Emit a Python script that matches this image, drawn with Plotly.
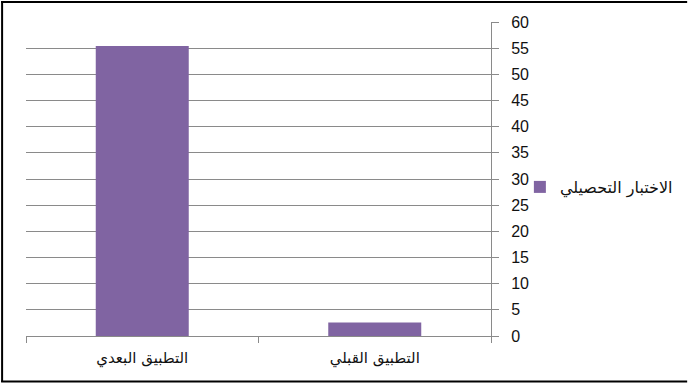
import plotly.graph_objects as go

categories = ["التطبيق البعدي", "التطبيق القبلي"]
values = [55.4, 2.6]
series_name = "الاختبار التحصيلي"
y_ticks = list(range(0, 61, 5))

W, H = 690, 383
L, R, T, B = 26, 197, 22, 47
pw, ph = W - L - R, H - T - B

def px_x(x):
    return (x - L) / pw

def px_y(y):
    return 1 - (y - T) / ph

fig = go.Figure()
fig.add_trace(go.Bar(
    x=categories, y=values, name=series_name,
    marker=dict(color="#8064A2", line=dict(width=0)),
    width=0.4, showlegend=True,
))

grid = "#8a8a8a"
fig.update_layout(
    width=W, height=H,
    margin=dict(l=L, r=R, t=T, b=B),
    paper_bgcolor="white", plot_bgcolor="white",
    font=dict(family="DejaVu Sans, Liberation Sans, sans-serif", color="#000000"),
    showlegend=True,
    legend=dict(
        x=px_x(522), y=px_y(187), xanchor="left", yanchor="middle",
        font=dict(size=16, family="DejaVu Sans", color="#111111"),
        bgcolor="rgba(0,0,0,0)", itemwidth=30, borderwidth=0,
    ),
    xaxis=dict(
        type="category", range=[-0.5, 1.5],
        showline=True, linecolor=grid, linewidth=1,
        ticks="outside", tickson="boundaries", ticklen=6, tickcolor=grid,
        showgrid=False, tickfont=dict(size=15, family="DejaVu Sans", color="#111111"),
        ticklabelstandoff=8,
        fixedrange=True,
    ),
    yaxis=dict(
        side="right", range=[0, 60], tickvals=y_ticks,
        showline=True, linecolor=grid, linewidth=1,
        ticks="outside", ticklen=7, tickcolor=grid,
        showgrid=True, gridcolor=grid, gridwidth=1,
        zeroline=False,
        tickfont=dict(size=16, family="Liberation Sans Narrow, Liberation Sans", color="#111111"),
        ticklabelstandoff=9,
        fixedrange=True,
    ),
    shapes=[
        dict(type="line", xref="paper", yref="paper",
             x0=px_x(2), x1=px_x(2), y0=px_y(1), y1=px_y(382),
             line=dict(color="black", width=2)),
        dict(type="line", xref="paper", yref="paper",
             x0=px_x(1), x1=px_x(690), y0=px_y(2), y1=px_y(2),
             line=dict(color="black", width=2)),
        dict(type="line", xref="paper", yref="paper",
             x0=px_x(1), x1=px_x(690), y0=px_y(381.5), y1=px_y(381.5),
             line=dict(color="black", width=2)),
    ],
)

fig.write_html("out.html", config={"displayModeBar": False})
